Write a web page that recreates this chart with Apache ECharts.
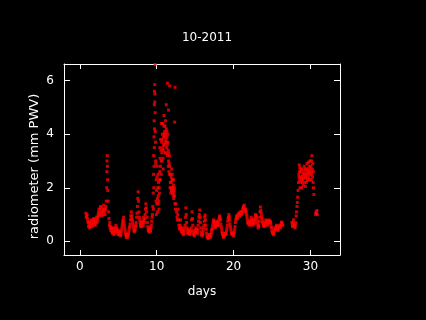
<!DOCTYPE html>
<html>
<head>
<meta charset="utf-8">
<script src="https://cdn.jsdelivr.net/npm/echarts@6/dist/echarts.min.js"></script>
<style>
  html, body { margin: 0; padding: 0; background: #000; }
  #chart { width: 426px; height: 320px; }
</style>
</head>
<body>
<div id="chart"></div>
<script>
// radiometer PWV readings, [day of month, mm]
var week1 = [
  [0.8, 1.05], [0.9, 0.95], [1.0, 0.85], [1.1, 0.7], [1.2, 0.6], [1.3, 0.5], [1.4, 0.65], [1.5, 0.8],
  [1.6, 0.6], [1.7, 0.7], [1.8, 0.85], [1.9, 0.75], [2.0, 0.6], [2.1, 0.75], [2.2, 0.9], [2.3, 0.8],
  [2.4, 1.0], [2.5, 1.2], [2.6, 1.05], [2.7, 1.3], [2.8, 1.1], [2.9, 0.95], [3.0, 1.15], [3.1, 1.35],
  [3.2, 1.2], [3.3, 1.0], [3.4, 1.3], [3.5, 2.0], [3.52, 2.6], [3.55, 3.0], [3.58, 3.2], [3.6, 2.8],
  [3.62, 2.3], [3.65, 1.9], [3.7, 1.5], [3.75, 1.1], [3.8, 0.85], [3.9, 0.7], [4.0, 0.55], [4.1, 0.45],
  [4.2, 0.35], [4.3, 0.5], [4.4, 0.4], [4.5, 0.3], [4.6, 0.45], [4.7, 0.6], [4.8, 0.5], [4.9, 0.35],
  [5.0, 0.25], [5.1, 0.4], [5.2, 0.3], [5.3, 0.2], [5.4, 0.35], [5.5, 0.55], [5.6, 0.75], [5.7, 0.9],
  [5.8, 0.6], [5.9, 0.4], [6.0, 0.25], [6.1, 0.2], [6.2, 0.15], [6.3, 0.25], [6.4, 0.4], [6.5, 0.55],
  [6.6, 0.8], [6.7, 1.1], [6.8, 0.95], [6.9, 0.7], [7.0, 0.5], [7.1, 0.35], [7.2, 0.45], [7.3, 0.6],
  [7.4, 0.9], [7.5, 1.3], [7.55, 1.6], [7.6, 1.85], [7.65, 1.5], [7.7, 1.1], [7.8, 0.8], [7.9, 0.6],
  [8.0, 0.7], [8.1, 0.55], [8.2, 0.75], [8.3, 0.9], [8.4, 0.7], [8.5, 1.0], [8.6, 1.4], [8.7, 1.1],
  [8.8, 0.7], [8.9, 0.45], [9.0, 0.35], [9.1, 0.5], [9.2, 0.4], [9.3, 0.6], [9.4, 0.9], [9.5, 1.3]
];
var week1Extra = [
  [0.85, 0.9], [0.95, 1.0], [1.05, 0.75], [1.15, 0.55], [1.25, 0.7], [1.35, 0.55], [1.45, 0.75], [1.55, 0.65],
  [1.65, 0.55], [1.75, 0.8], [1.85, 0.7], [1.95, 0.65], [2.05, 0.7], [2.15, 0.85], [2.25, 0.7], [2.35, 0.9],
  [2.45, 1.1], [2.55, 0.95], [2.65, 1.2], [2.75, 1.0], [2.85, 1.25], [2.95, 1.1], [3.05, 1.0], [3.15, 1.2],
  [3.25, 1.1], [3.35, 1.2], [3.45, 1.5], [3.85, 0.6], [3.95, 0.5], [4.05, 0.4], [4.15, 0.5], [4.25, 0.3],
  [4.35, 0.45], [4.45, 0.25], [4.55, 0.35], [4.65, 0.5], [4.75, 0.4], [4.85, 0.45], [4.95, 0.3], [5.05, 0.35],
  [5.15, 0.25], [5.25, 0.35], [5.35, 0.25], [5.45, 0.45], [5.55, 0.65], [5.65, 0.8], [5.75, 0.7], [5.85, 0.5],
  [5.95, 0.3], [6.05, 0.15], [6.15, 0.25], [6.25, 0.2], [6.35, 0.3], [6.45, 0.5], [6.55, 0.65], [6.65, 0.95],
  [6.75, 0.85], [6.85, 0.8], [6.95, 0.6], [7.05, 0.4], [7.15, 0.4], [7.25, 0.55], [7.35, 0.7], [7.45, 1.05],
  [7.75, 0.9], [7.85, 0.7], [7.95, 0.55], [8.05, 0.65], [8.15, 0.7], [8.25, 0.6], [8.35, 0.8], [8.45, 0.85],
  [8.55, 1.2], [8.65, 1.25], [8.75, 0.9], [8.85, 0.55], [8.95, 0.4], [9.05, 0.45], [9.15, 0.35], [9.25, 0.5],
  [9.35, 0.75], [9.45, 1.0]
];
var stormPeak = [
  [9.55, 1.8], [9.6, 2.5], [9.62, 3.2], [9.65, 3.9], [9.68, 4.5], [9.7, 5.1], [9.72, 5.6], [9.75, 5.85],
  [9.78, 5.5], [9.8, 6.6], [9.8, 4.8], [9.85, 3.7], [9.9, 2.9], [9.95, 2.3], [10.0, 1.9], [10.05, 2.4],
  [10.1, 1.6], [10.15, 2.0], [10.2, 1.4], [10.25, 2.2], [10.3, 1.2], [10.35, 1.8], [10.4, 2.6], [10.45, 3.1],
  [10.5, 2.8], [10.55, 3.4], [10.6, 2.5], [10.65, 3.7], [10.7, 3.0], [10.75, 4.0], [10.8, 3.5], [10.85, 2.7],
  [10.9, 3.9], [10.95, 4.3], [11.0, 3.6], [11.05, 4.1], [11.1, 3.3], [11.15, 4.5], [11.2, 3.8], [11.25, 4.2],
  [11.3, 3.5], [11.35, 3.9], [11.4, 5.9], [11.45, 4.0], [11.5, 3.4], [11.55, 3.0], [11.6, 2.6], [11.65, 3.2],
  [11.7, 5.8], [11.75, 2.0], [11.8, 2.5], [11.85, 1.8], [11.9, 2.2], [11.95, 2.7], [12.0, 2.3], [12.05, 1.9],
  [12.1, 2.3], [12.15, 1.7], [12.2, 2.1], [12.25, 1.8], [12.3, 2.0], [12.35, 4.45], [12.4, 5.75], [12.5, 1.4]
];
var stormExtra = [
  [9.58, 1.2], [9.63, 2.0], [9.67, 2.8], [9.7, 3.5], [9.72, 4.2], [9.76, 5.2], [9.82, 4.1], [9.87, 3.0],
  [9.92, 1.5], [9.97, 1.0], [10.02, 1.4], [10.08, 2.8], [10.12, 1.1], [10.18, 2.5], [10.22, 1.7], [10.28, 1.5],
  [10.32, 2.0], [10.38, 2.3], [10.42, 3.5], [10.48, 2.3], [10.52, 3.8], [10.58, 3.0], [10.62, 4.4], [10.68, 3.3],
  [10.72, 3.8], [10.78, 4.4], [10.82, 3.1], [10.88, 3.4], [10.92, 3.6], [10.98, 4.0], [11.02, 3.9], [11.08, 4.3],
  [11.12, 3.7], [11.18, 4.0], [11.22, 3.3], [11.28, 3.7], [11.32, 4.1], [11.38, 3.6], [11.42, 3.2], [11.48, 3.7],
  [11.52, 2.8], [11.58, 3.3], [11.62, 2.9], [11.68, 2.5], [11.72, 2.8], [11.78, 2.2], [11.82, 2.0], [11.88, 2.4],
  [11.92, 1.9], [11.98, 2.0], [12.02, 2.5], [12.08, 1.8], [12.12, 2.0], [12.18, 2.3], [12.22, 1.6], [12.28, 1.9],
  [12.32, 1.7], [12.38, 1.4], [12.45, 1.2], [11.25, 5.1], [11.55, 4.9], [10.95, 4.7]
];
var midMonth = [
  [12.6, 1.1], [12.7, 0.8], [12.8, 1.2], [12.9, 0.6], [13.0, 0.45], [13.1, 0.8], [13.2, 0.35], [13.3, 0.5],
  [13.4, 0.3], [13.5, 0.25], [13.6, 0.4], [13.7, 0.6], [13.8, 1.25], [13.9, 0.7], [14.0, 0.4], [14.1, 0.3],
  [14.2, 0.45], [14.3, 0.25], [14.4, 0.35], [14.5, 0.5], [14.6, 1.1], [14.7, 0.6], [14.8, 0.3], [14.9, 0.2],
  [15.0, 0.35], [15.1, 0.5], [15.2, 0.4], [15.3, 0.3], [15.4, 0.6], [15.5, 0.9], [15.6, 1.17], [15.7, 0.7],
  [15.8, 0.35], [15.9, 0.2], [16.0, 0.3], [16.1, 0.5], [16.2, 0.75], [16.3, 0.98], [16.4, 0.6], [16.5, 0.3],
  [16.6, 0.15], [16.7, 0.1], [16.8, 0.2], [16.9, 0.25], [17.0, 0.15], [17.1, 0.3], [17.2, 0.45], [17.3, 0.6],
  [17.4, 0.8], [17.5, 0.7], [17.6, 0.5], [17.7, 0.6], [17.8, 0.75], [17.9, 0.65], [18.0, 0.6], [18.1, 0.8],
  [18.2, 0.95], [18.3, 0.8], [18.4, 0.55], [18.5, 0.35], [18.6, 0.25], [18.7, 0.15], [18.8, 0.2], [18.9, 0.3],
  [19.0, 0.25], [19.1, 0.4], [19.2, 0.6], [19.3, 0.85], [19.4, 1.0], [19.5, 0.8], [19.6, 0.55], [19.7, 0.35],
  [19.8, 0.25], [19.9, 0.3], [20.0, 0.2], [20.1, 0.35], [20.2, 0.55], [20.3, 0.8], [20.4, 0.95], [20.5, 0.85],
  [20.6, 1.0], [20.7, 1.05], [20.8, 0.95], [20.9, 1.1], [21.0, 1.0], [21.1, 1.05], [21.2, 1.2], [21.3, 1.3],
  [21.4, 1.35], [21.5, 1.15], [21.6, 1.2], [21.7, 1.0], [21.8, 0.8], [21.9, 0.65], [22.0, 0.75], [22.1, 0.6],
  [22.2, 0.7], [22.3, 0.9], [22.4, 0.75], [22.5, 0.6], [22.6, 0.8], [22.7, 0.65], [22.8, 0.85], [22.9, 1.0],
  [23.0, 0.9], [23.1, 0.7], [23.2, 0.5], [23.3, 0.6], [23.4, 0.9], [23.5, 1.28], [23.6, 1.05], [23.7, 0.85],
  [23.8, 0.7], [23.9, 0.6], [24.0, 0.55], [24.1, 0.65], [24.2, 0.8], [24.3, 0.7], [24.4, 0.6], [24.5, 0.75],
  [24.6, 0.8], [24.7, 0.7], [24.8, 0.75], [24.9, 0.55], [25.0, 0.4], [25.1, 0.3], [25.2, 0.25], [25.3, 0.4],
  [25.4, 0.5], [25.5, 0.45], [25.6, 0.6], [25.7, 0.5], [25.8, 0.4], [25.9, 0.55], [26.0, 0.6], [26.1, 0.5],
  [26.2, 0.65], [26.3, 0.72], [26.4, 0.6]
];
var midMonthExtra = [
  [12.65, 0.9], [12.75, 1.0], [12.85, 0.8], [12.95, 0.5], [13.05, 0.6], [13.15, 0.5], [13.25, 0.4], [13.35, 0.35],
  [13.45, 0.4], [13.55, 0.3], [13.65, 0.5], [13.75, 0.9], [13.85, 1.0], [13.95, 0.5], [14.05, 0.3], [14.15, 0.4],
  [14.25, 0.35], [14.35, 0.3], [14.45, 0.4], [14.55, 0.8], [14.65, 0.85], [14.75, 0.4], [14.85, 0.25], [14.95, 0.3],
  [15.05, 0.4], [15.15, 0.45], [15.25, 0.35], [15.35, 0.45], [15.45, 0.75], [15.55, 1.0], [15.65, 0.9], [15.75, 0.5],
  [15.85, 0.25], [15.95, 0.25], [16.05, 0.4], [16.15, 0.6], [16.25, 0.9], [16.35, 0.8], [16.45, 0.45], [16.55, 0.2],
  [16.65, 0.15], [16.75, 0.15], [16.85, 0.25], [16.95, 0.2], [17.05, 0.2], [17.15, 0.4], [17.25, 0.5], [17.35, 0.7],
  [17.45, 0.75], [17.55, 0.6], [17.65, 0.55], [17.75, 0.7], [17.85, 0.7], [17.95, 0.6], [18.05, 0.7], [18.15, 0.9],
  [18.25, 0.85], [18.35, 0.65], [18.45, 0.45], [18.55, 0.3], [18.65, 0.2], [18.75, 0.2], [18.85, 0.25], [18.95, 0.3],
  [19.05, 0.3], [19.15, 0.5], [19.25, 0.75], [19.35, 0.9], [19.45, 0.9], [19.55, 0.65], [19.65, 0.45], [19.75, 0.3],
  [19.85, 0.3], [19.95, 0.25], [20.05, 0.3], [20.15, 0.45], [20.25, 0.7], [20.35, 0.85], [20.45, 0.9], [20.55, 0.95],
  [20.65, 1.0], [20.75, 0.95], [20.85, 1.05], [20.95, 1.05], [21.05, 1.1], [21.15, 1.1], [21.25, 1.25], [21.35, 1.25],
  [21.45, 1.2], [21.55, 1.1], [21.65, 1.1], [21.75, 0.9], [21.85, 0.7], [21.95, 0.7], [22.05, 0.65], [22.15, 0.65],
  [22.25, 0.8], [22.35, 0.8], [22.45, 0.65], [22.55, 0.7], [22.65, 0.7], [22.75, 0.75], [22.85, 0.95], [22.95, 0.95],
  [23.05, 0.8], [23.15, 0.6], [23.25, 0.55], [23.35, 0.75], [23.45, 1.1], [23.55, 1.15], [23.65, 0.95], [23.75, 0.75],
  [23.85, 0.65], [23.95, 0.6], [24.05, 0.6], [24.15, 0.7], [24.25, 0.75], [24.35, 0.65], [24.45, 0.7], [24.55, 0.75],
  [24.65, 0.75], [24.75, 0.7], [24.85, 0.65], [24.95, 0.5], [25.05, 0.35], [25.15, 0.3], [25.25, 0.3], [25.35, 0.45],
  [25.45, 0.45], [25.55, 0.55], [25.65, 0.55], [25.75, 0.45], [25.85, 0.5], [25.95, 0.55], [26.05, 0.55], [26.15, 0.6],
  [26.25, 0.7], [26.35, 0.65]
];
var monthEnd = [
  [27.6, 0.7], [27.7, 0.55], [27.8, 0.8], [27.9, 0.6], [28.0, 0.5], [28.1, 0.7], [28.15, 0.95], [28.2, 1.1],
  [28.25, 1.3], [28.3, 1.45], [28.35, 1.65], [28.4, 1.9], [28.45, 2.2], [28.5, 2.5], [28.55, 2.85], [28.6, 2.3],
  [28.65, 2.0], [28.7, 2.6], [28.75, 2.2], [28.8, 2.4], [28.85, 2.0], [28.9, 2.7], [28.95, 2.3], [29.0, 2.5],
  [29.05, 2.1], [29.1, 2.6], [29.15, 2.35], [29.2, 2.8], [29.25, 2.2], [29.3, 2.5], [29.35, 2.05], [29.4, 2.7],
  [29.45, 2.4], [29.5, 2.6], [29.55, 2.9], [29.6, 2.3], [29.65, 2.7], [29.7, 2.5], [29.75, 2.95], [29.8, 2.4],
  [29.85, 2.8], [29.9, 2.6], [29.95, 3.0], [30.0, 2.5], [30.05, 2.8], [30.1, 2.3], [30.15, 3.0], [30.2, 3.2],
  [30.25, 2.7], [30.3, 2.9], [30.35, 2.2], [30.4, 2.0], [30.45, 1.75], [30.7, 1.0], [30.75, 1.1], [30.8, 1.05],
  [30.85, 1.15], [30.9, 1.0]
];
var monthEndExtra = [
  [27.65, 0.6], [27.75, 0.7], [27.85, 0.65], [27.95, 0.55], [28.05, 0.6], [28.52, 2.4], [28.58, 2.6], [28.62, 2.75],
  [28.68, 2.4], [28.78, 2.7], [28.88, 2.3], [28.98, 2.2], [29.08, 2.4], [29.18, 2.5], [29.28, 2.7], [29.38, 2.4],
  [29.48, 2.2], [29.58, 2.5], [29.68, 2.3], [29.78, 2.6], [29.88, 2.3], [29.98, 2.7], [30.08, 2.6], [30.18, 2.5],
  [30.28, 2.4], [30.38, 2.6], [30.72, 1.05]
];
var xTicks = [0, 10, 20, 30];
var yTicks = [0, 2, 4, 6];

var chart = echarts.init(document.getElementById("chart"));
var fontFamily = "DejaVu Sans";
var white = "#ffffff";

function xAxisCfg(pos, labels) {
  return {
    type: "value",
    position: pos,
    min: -2.05,
    max: 33.85,
    splitLine: { show: false },
    axisLine: { show: true, onZero: false, lineStyle: { color: white, width: 1 } },
    axisTick: { show: true, inside: true, length: 5, customValues: xTicks, lineStyle: { color: white } },
    axisLabel: { show: labels, customValues: xTicks, color: white, fontFamily: fontFamily, fontSize: 12, margin: 6 },
    name: labels ? "days" : "",
    nameLocation: "middle",
    nameGap: 31,
    nameTextStyle: { color: white, fontFamily: fontFamily, fontSize: 12 }
  };
}
function yAxisCfg(pos, labels) {
  return {
    type: "value",
    position: pos,
    min: -0.51,
    max: 6.62,
    splitLine: { show: false },
    axisLine: { show: true, onZero: false, lineStyle: { color: white, width: 1 } },
    axisTick: { show: true, inside: true, length: 6, customValues: yTicks, lineStyle: { color: white } },
    axisLabel: { show: labels, customValues: yTicks, color: white, fontFamily: fontFamily, fontSize: 12, margin: 10 },
    name: labels ? "radiometer (mm PWV)" : "",
    nameLocation: "middle",
    nameGap: 23,
    nameMoveOverlap: false,
    nameTextStyle: { color: white, fontFamily: fontFamily, fontSize: 13, padding: [0, 14, 0, 0] }
  };
}

chart.setOption({
  backgroundColor: "#000000",
  animation: false,
  title: {
    text: "10-2011",
    left: 202,
    top: 27,
    textAlign: "center",
    textStyle: { color: white, fontFamily: fontFamily, fontSize: 12, fontWeight: "normal" }
  },
  grid: { left: 64, right: 86, top: 64, bottom: 65 },
  xAxis: [xAxisCfg("bottom", true), xAxisCfg("top", false)],
  yAxis: [yAxisCfg("left", true), yAxisCfg("right", false)],
  series: [
    {
      type: "scatter",
      symbol: "rect",
      symbolSize: 3,
      itemStyle: { color: "#ff0000" },
      data: week1.concat(week1Extra, stormPeak, stormExtra, midMonth, midMonthExtra, monthEnd, monthEndExtra)
    }
  ]
});
</script>
</body>
</html>
